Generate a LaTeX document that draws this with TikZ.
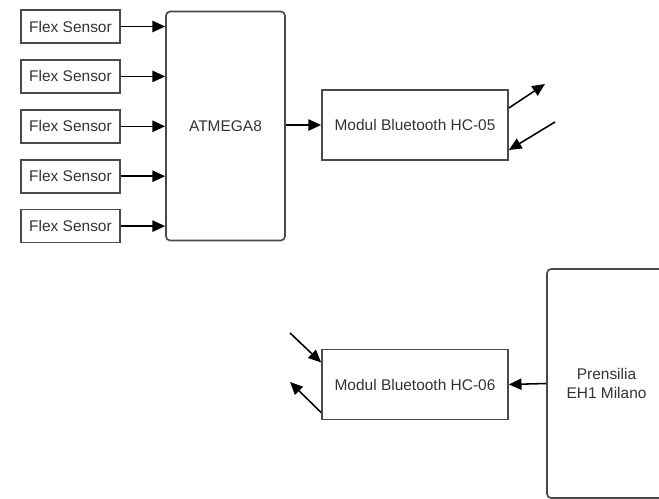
\documentclass[tikz,border=0pt]{standalone}
\usepackage{fontspec}
\setmainfont{Liberation Sans}
\usetikzlibrary{arrows.meta, positioning}
\definecolor{boxline}{HTML}{4A4A4A}
\definecolor{boxtext}{HTML}{333333}
\tikzset{
    sensor/.style={rectangle, minimum width=2.475cm, minimum height=0.825cm, text centered, draw=boxline, line width=1.2pt, text=boxtext, font=\fontsize{11}{13}\selectfont},
    mcu/.style={rectangle, rounded corners=3pt, minimum width=2.975cm, minimum height=5.725cm, align=center, draw=boxline, line width=1.2pt, text=boxtext, font=\fontsize{11}{13}\selectfont},
    module/.style={rectangle, minimum width=4.65cm, minimum height=1.75cm, text centered, draw=boxline, line width=1.2pt, text=boxtext, font=\fontsize{11}{13}\selectfont},
    arrow/.style={line width=1.1pt, -{Triangle[length=9pt, width=8pt]}}
}

\begin{document}
\begin{tikzpicture}[x=0.025cm, y=-0.025cm, node distance=0.38cm]

    \clip (0,0) rectangle (659,499);

    % --- NOEUDS ---
    \node (sensor1) [sensor] at (70.5,26.5) {Flex Sensor};
    \node (sensor2) [sensor, below=of sensor1] {Flex Sensor};
    \node (sensor3) [sensor, below=of sensor2] {Flex Sensor};
    \node (sensor4) [sensor, below=of sensor3] {Flex Sensor};
    \node (sensor5) [sensor, below=of sensor4] {Flex Sensor};

    \node (atmega) [mcu] at (225.5,126) {ATMEGA8};
    \node (hc05) [module] at (415,125) {Modul Bluetooth HC-05};

    \node (hc06) [module] at (415,384.5) {Modul Bluetooth HC-06};
    \node (hand) [mcu] at (606.5,383.5) {Prensilia\\EH1 Milano};

    % antennes
    \coordinate (tx05) at (545,84);
    \coordinate (rx05) at (555,122);
    \coordinate (rx06) at (290,333);
    \coordinate (tx06) at (290,382);

    % --- FLÈCHES ---
    \foreach \i in {1,...,5}
        \draw [arrow] (sensor\i.east) -- (sensor\i.east -| atmega.west);
    \draw [arrow] (atmega.east |- hc05.west) -- (hc05.west);

    \draw [arrow] ([yshift=0.425cm]hc05.east) -- (tx05);
    \draw [arrow] (rx05) -- ([yshift=-0.625cm]hc05.east);

    \draw [arrow] (hand.west) -- (hc06.east);
    \draw [arrow] (rx06) -- ([yshift=0.55cm]hc06.west);
    \draw [arrow] ([yshift=-0.7cm]hc06.west) -- (tx06);

\end{tikzpicture}
\end{document}
